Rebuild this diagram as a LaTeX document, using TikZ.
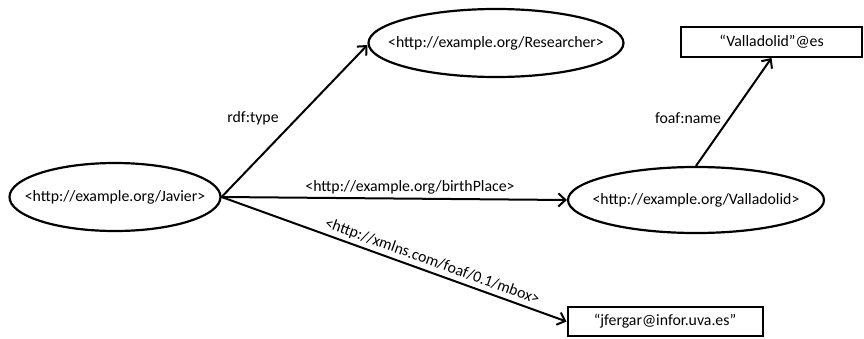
\documentclass[tikz,border=0pt]{standalone}
\usepackage{fontspec}
\setmainfont{Carlito}
\usetikzlibrary{shapes.geometric,arrows.meta}
\begin{document}
\begin{tikzpicture}[x=1pt,y=-1pt,
  every node/.style={font=\fontsize{15.8}{19}\selectfont},
  res/.style={ellipse,draw,line width=2.2pt,inner sep=0pt},
  lit/.style={rectangle,draw,line width=2pt,inner sep=0pt},
  edge/.style={line width=2pt,-{Straight Barb[length=7pt,width=13pt,line width=2pt]}},
  lbl/.style={inner sep=1pt}]
\useasboundingbox (0,0) rectangle (864,338);
\node[res,minimum width=211pt,minimum height=68pt] (jav) at (115,197) {\makebox[0pt]{<http://example.org/Javier>}};
\node[res,minimum width=255pt,minimum height=68pt] (resr) at (496,43) {\makebox[0pt]{<http://example.org/Researcher>}};
\node[res,minimum width=256pt,minimum height=66pt] (vall) at (696,200) {\makebox[0pt]{<http://example.org/Valladolid>}};
\node[lit,minimum width=181pt,minimum height=30pt] (vales) at (771.5,42) {“Valladolid”@es};
\node[lit,minimum width=195pt,minimum height=29pt] (mail) at (665,321.5) {“jfergar@infor.uva.es”};
\draw[edge] (jav.east) -- (resr.west |- 0,45) coordinate (rtip);
\node[lbl] (ltype) at (253,118) {rdf:type};
\draw[edge] (jav.east) -- (vall.west);
\node[lbl] (lbirth) at (410,187) {<http://example.org/birthPlace>};
\draw[edge] (jav.east) -- (mail.west) node[lbl,pos=0.6,above=2pt,sloped] (lmbox) {<http://xmlns.com/foaf/0.1/mbox>};
\draw[edge] (vall.north) -- (vales.south);
\node[lbl] (lname) at (688,118) {foaf:name};
\end{tikzpicture}
\end{document}
